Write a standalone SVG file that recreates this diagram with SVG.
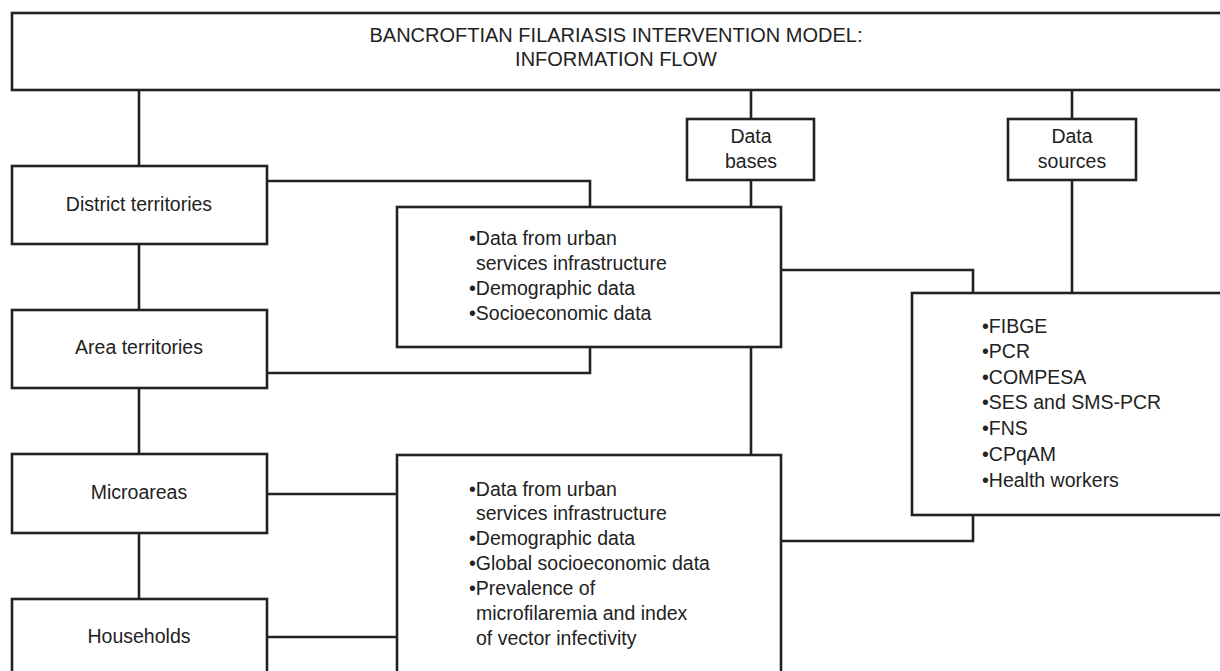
<svg xmlns="http://www.w3.org/2000/svg" width="1220" height="671" viewBox="0 0 1220 671">
<style>
.box{fill:#fff;stroke:#222;stroke-width:2.6}
.ln{fill:none;stroke:#222;stroke-width:2.6}
text{font-family:"Liberation Sans",Arial,Helvetica,sans-serif;font-size:19.5px;fill:#222}
.c{text-anchor:middle}
.t{font-size:20px}
</style>
<rect width="1220" height="671" fill="#fff"/>
<g id="connectors">
<path class="ln" d="M139,90V166"/>
<path class="ln" d="M751,90V119"/>
<path class="ln" d="M1072,90V119"/>
<path class="ln" d="M139,244V310"/>
<path class="ln" d="M139,388V454"/>
<path class="ln" d="M139,533V599"/>
<path class="ln" d="M751,180V207"/>
<path class="ln" d="M751,347V455"/>
<path class="ln" d="M1072,180V293"/>
<path class="ln" d="M267,181H590V207"/>
<path class="ln" d="M267,373H590V347"/>
<path class="ln" d="M781,270H973V293"/>
<path class="ln" d="M781,541H973V515"/>
<path class="ln" d="M267,494H397"/>
<path class="ln" d="M267,637H397"/>
</g>
<g id="title">
<rect class="box" x="12" y="13" width="1230" height="77"/>
<text class="c t" x="616" y="42">BANCROFTIAN FILARIASIS INTERVENTION MODEL:</text>
<text class="c t" x="616" y="66">INFORMATION FLOW</text>
</g>
<g id="district">
<rect class="box" x="12" y="166" width="255" height="78"/>
<text class="c" x="139" y="211">District territories</text>
</g>
<g id="area">
<rect class="box" x="12" y="310" width="255" height="78"/>
<text class="c" x="139" y="354">Area territories</text>
</g>
<g id="microareas">
<rect class="box" x="12" y="454" width="255" height="79"/>
<text class="c" x="139" y="499">Microareas</text>
</g>
<g id="households">
<rect class="box" x="12" y="599" width="255" height="90"/>
<text class="c" x="139" y="643">Households</text>
</g>
<g id="databases">
<rect class="box" x="687" y="119" width="127" height="61"/>
<text class="c" x="751" y="143">Data</text>
<text class="c" x="751" y="168">bases</text>
</g>
<g id="datasources">
<rect class="box" x="1008" y="119" width="128" height="61"/>
<text class="c" x="1072" y="143">Data</text>
<text class="c" x="1072" y="168">sources</text>
</g>
<g id="territorydata">
<rect class="box" x="397" y="207" width="384" height="140"/>
<text x="469" y="245">•Data from urban</text>
<text x="476" y="270">services infrastructure</text>
<text x="469" y="295">•Demographic data</text>
<text x="469" y="320">•Socioeconomic data</text>
</g>
<g id="microdata">
<rect class="box" x="397" y="455" width="384" height="240"/>
<text x="469" y="496">•Data from urban</text>
<text x="476" y="520">services infrastructure</text>
<text x="469" y="545">•Demographic data</text>
<text x="469" y="570">•Global socioeconomic data</text>
<text x="469" y="595">•Prevalence of</text>
<text x="476" y="620">microfilaremia and index</text>
<text x="476" y="645">of vector infectivity</text>
</g>
<g id="sources">
<rect class="box" x="912" y="293" width="330" height="222"/>
<text x="982" y="333">•FIBGE</text>
<text x="982" y="358">•PCR</text>
<text x="982" y="384">•COMPESA</text>
<text x="982" y="409">•SES and SMS-PCR</text>
<text x="982" y="435">•FNS</text>
<text x="982" y="461">•CPqAM</text>
<text x="982" y="487">•Health workers</text>
</g>
</svg>
